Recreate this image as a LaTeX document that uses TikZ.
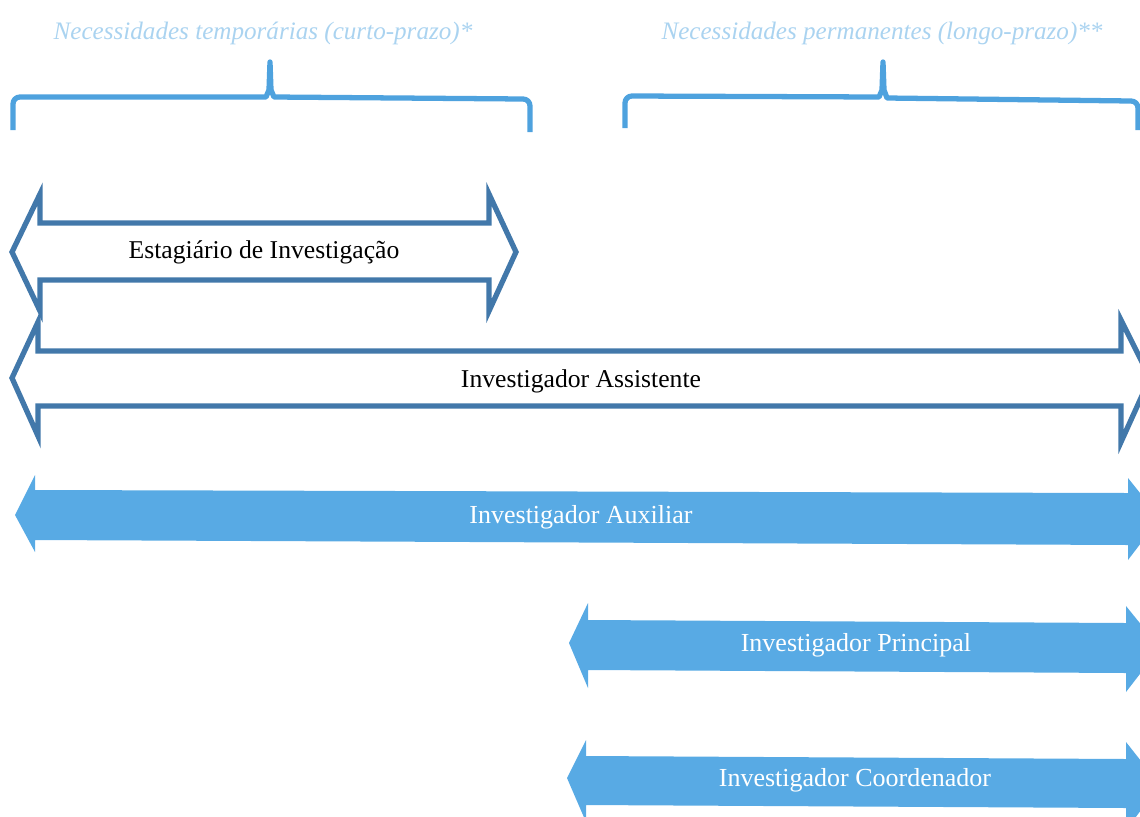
\documentclass[tikz,border=0pt]{standalone}
\usepackage{fontspec}
\setmainfont{Liberation Serif}
\definecolor{bracec}{RGB}{78,162,222}
\definecolor{toptext}{RGB}{170,211,240}
\definecolor{outlinec}{RGB}{66,120,170}
\definecolor{fillc}{RGB}{88,170,228}
\tikzset{
  bracepath/.style={draw=bracec, line width=3pt, line join=round},
  toplabel/.style={text=toptext, font=\fontsize{14.3}{16}\selectfont\itshape, inner sep=0pt},
  outlinearrow/.style={draw=outlinec, line width=3pt, fill=white, line join=miter},
  filledarrow/.style={fill=fillc, draw=none},
  blacklabel/.style={text=black, font=\fontsize{14.6}{16}\selectfont, inner sep=0pt},
  whitelabel/.style={text=white, font=\fontsize{14.8}{16}\selectfont, inner sep=0pt}
}
\begin{document}
\begin{tikzpicture}[x=0.02cm, y=-0.02cm]
\useasboundingbox (0,0) rectangle (1140,816);
\clip (0,0) rectangle (1140,816);
% top labels
\node[toplabel] (t1) at (263,33) {Necessidades temporárias (curto-prazo)*};
\node[toplabel] (t2) at (882,33) {Necessidades permanentes (longo-prazo)**};
% braces
\draw[bracepath] (13,130) -- (13,104) to[out=90,in=180] (20,97) -- (266,97) -- (269,90) -- (270,62) -- (271,90) -- (274,97) -- (523,99) to[out=0,in=90] (530,106) -- (530,132);
\draw[bracepath] (625,128) -- (625,103) to[out=90,in=180] (632,96) -- (879,97) -- (882,90) -- (883,62) -- (884,90) -- (887,98) -- (1131,101) to[out=0,in=90] (1138,108) -- (1138,130);
% arrow 1
\draw[outlinearrow] (12,252) -- (40,194) -- (40,223) -- (489,223) -- (489,194) -- (516,252) -- (489,311) -- (489,280) -- (40,280) -- (40,311) -- cycle;
\node[blacklabel] (a1) at (264,252) {Estagiário de Investigação};
% arrow 2
\draw[outlinearrow] (12,378) -- (38,322) -- (38,351) -- (1121,351) -- (1121,320) -- (1150,378) -- (1121,442) -- (1121,406) -- (38,406) -- (38,436) -- cycle;
\node[blacklabel] (a2) at (581,381) {Investigador Assistente};
% arrow 3
\fill[filledarrow] (15,515) -- (35,475) -- (35,490) -- (1128,493) -- (1128,478) -- (1160,518) -- (1128,560) -- (1128,545) -- (35,540) -- (35,552) -- cycle;
\node[whitelabel] (a3) at (581,517) {Investigador Auxiliar};
% arrow 4
\fill[filledarrow] (569,643) -- (588,603) -- (588,620) -- (1126,623) -- (1126,606) -- (1160,648) -- (1126,692) -- (1126,673) -- (588,670) -- (588,688) -- cycle;
\node[whitelabel] (a4) at (856,645) {Investigador Principal};
% arrow 5
\fill[filledarrow] (567,778) -- (586,740) -- (586,756) -- (1126,759) -- (1126,742) -- (1160,785) -- (1126,830) -- (1126,808) -- (586,805) -- (586,822) -- cycle;
\node[whitelabel] (a5) at (855,780) {Investigador Coordenador};
\end{tikzpicture}
\end{document}
